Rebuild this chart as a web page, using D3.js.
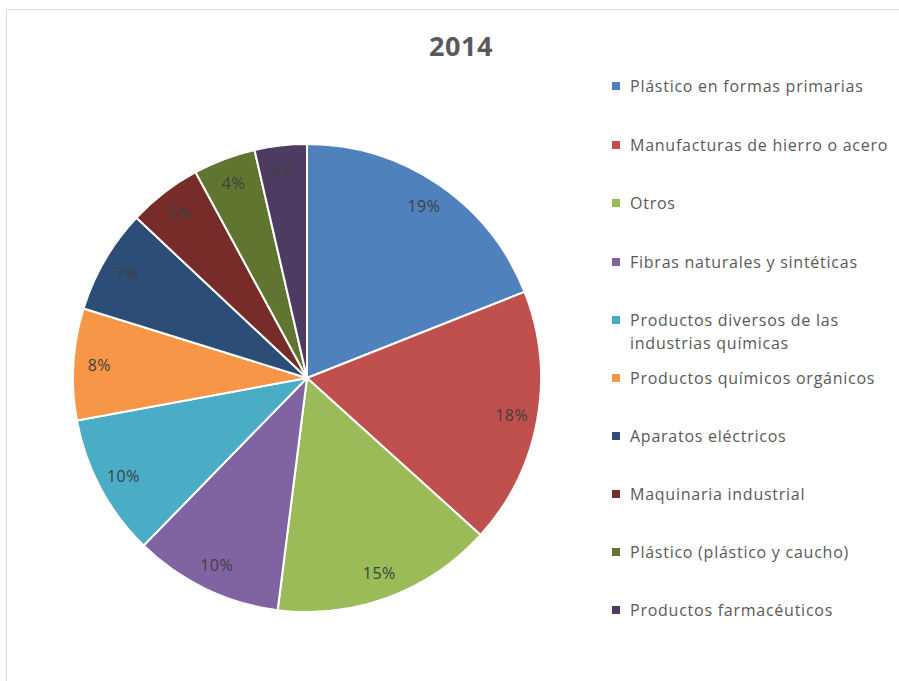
<!DOCTYPE html>
<html>
<head>
<meta charset="utf-8">
<script src="https://cdn.jsdelivr.net/npm/d3@7"></script>
<style>
  body { margin: 0; background: #fff; }
  svg text { font-family: "Open Sans", "Noto Sans", sans-serif; }
</style>
</head>
<body>
<div id="chart"></div>
<script>
var width = 899;
var height = 681;

// data
var categories = [
  "Plástico en formas primarias",
  "Manufacturas de hierro o acero",
  "Otros",
  "Fibras naturales y sintéticas",
  "Productos diversos de las industrias químicas",
  "Productos químicos orgánicos",
  "Aparatos eléctricos",
  "Maquinaria industrial",
  "Plástico (plástico y caucho)",
  "Productos farmacéuticos"
];
var values = [19.0, 17.7, 15.3, 10.3, 9.8, 7.7, 7.2, 5.1, 4.3, 3.6];
var colors = ["#4f81bd", "#c0504d", "#9bbb59", "#8064a2", "#4bacc6",
              "#f79646", "#2c4d75", "#772c2a", "#5f7530", "#4d3b62"];
// legend lines (the 5th entry wraps on two lines)
var legendLines = [
  ["Plástico en formas primarias"],
  ["Manufacturas de hierro o acero"],
  ["Otros"],
  ["Fibras naturales y sintéticas"],
  ["Productos diversos de las", "industrias químicas"],
  ["Productos químicos orgánicos"],
  ["Aparatos eléctricos"],
  ["Maquinaria industrial"],
  ["Plástico (plástico y caucho)"],
  ["Productos farmacéuticos"]
];
var legendY = [86, 145, 203, 262, 320, 378, 436, 494, 552, 610];

var svg = d3.select("#chart").append("svg")
  .attr("width", width)
  .attr("height", height);

// chart area border
svg.append("rect")
  .attr("x", 6.5).attr("y", 9.5)
  .attr("width", 900).attr("height", 700)
  .attr("fill", "#fff")
  .attr("stroke", "#d9d9d9");

svg.append("text")
  .attr("x", 461).attr("y", 56)
  .attr("text-anchor", "middle")
  .attr("font-size", 27)
  .attr("font-weight", "bold")
  .attr("letter-spacing", 0.5)
  .attr("fill", "#595959")
  .text("2014");

var cx = 307, cy = 378, radius = 234;

var pie = d3.pie().sort(null).value(function(d) { return d; });
var arc = d3.arc().innerRadius(0).outerRadius(radius);
var labelArc = d3.arc().innerRadius(208).outerRadius(208);

var arcs = pie(values);
var total = d3.sum(values);

var g = svg.append("g").attr("transform", "translate(" + cx + "," + cy + ")");

g.selectAll("path.slice").data(arcs)
  .enter().append("path")
  .attr("class", "slice")
  .attr("d", arc)
  .attr("fill", function(d, i) { return colors[i]; })
  .attr("stroke", "#fff")
  .attr("stroke-width", 2)
  .attr("stroke-linejoin", "round");

g.selectAll("text.lbl").data(arcs)
  .enter().append("text")
  .attr("class", "lbl")
  .attr("transform", function(d) { return "translate(" + labelArc.centroid(d) + ")"; })
  .attr("text-anchor", "middle")
  .attr("dy", "0.35em")
  .attr("font-size", 16)
  .attr("letter-spacing", 0.5)
  .attr("fill", "#404040")
  .text(function(d) { return Math.round(d.value / total * 100) + "%"; });

// legend
var leg = svg.append("g").selectAll("g").data(legendLines)
  .enter().append("g")
  .attr("transform", function(d, i) { return "translate(612," + legendY[i] + ")"; });

leg.append("rect")
  .attr("x", 0).attr("y", -4)
  .attr("width", 8).attr("height", 8)
  .attr("fill", function(d, i) { return colors[i]; });

leg.each(function(lines) {
  var t = d3.select(this).append("text")
    .attr("x", 18).attr("y", 0)
    .attr("font-size", 16)
    .attr("letter-spacing", 0.75)
    .attr("fill", "#595959");
  lines.forEach(function(line, j) {
    t.append("tspan")
      .attr("x", 18)
      .attr("dy", j === 0 ? "0.35em" : 23)
      .text(line);
  });
});
</script>
</body>
</html>
